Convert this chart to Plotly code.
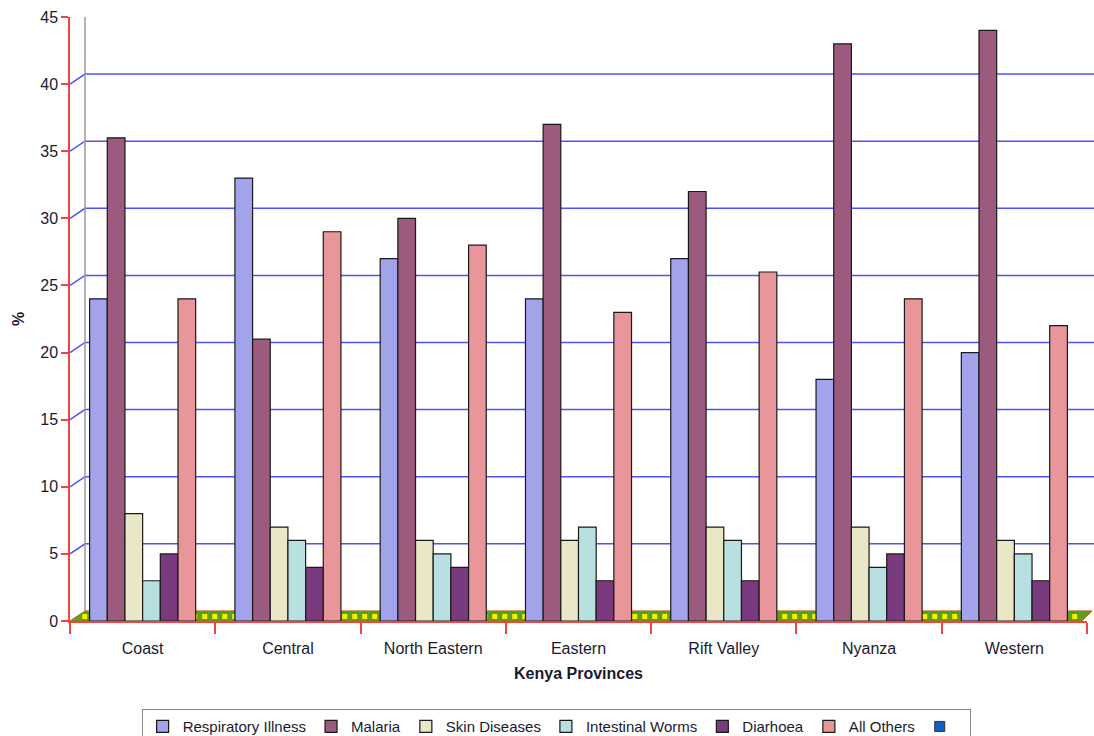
import plotly.graph_objects as go

provinces = ["Coast", "Central", "North Eastern", "Eastern", "Rift Valley", "Nyanza", "Western"]
series_names = ["Respiratory Illness", "Malaria", "Skin Diseases", "Intestinal Worms", "Diarhoea", "All Others"]
respiratory = [24, 33, 27, 24, 27, 18, 20]
malaria = [36, 21, 30, 37, 32, 43, 44]
skin = [8, 7, 6, 6, 7, 7, 6]
worms = [3, 6, 5, 7, 6, 4, 5]
diarhoea = [5, 4, 4, 3, 3, 5, 3]
all_others = [24, 29, 28, 23, 26, 24, 22]
y_ticks = [0, 5, 10, 15, 20, 25, 30, 35, 40, 45]

series_values = [respiratory, malaria, skin, worms, diarhoea, all_others]
bar_colors = ["#a2a3ea", "#9c5a7e", "#e9e7c6", "#b8e0e0", "#7a3a7e", "#e8969a"]

FONT = "Liberation Sans, Arial, sans-serif"
TXT = "#1a1a2e"

fig = go.Figure()
for name, vals, col in zip(series_names, series_values, bar_colors):
    fig.add_trace(go.Bar(
        x=provinces, y=vals, name=name,
        marker=dict(color=col, line=dict(color="#1a1a1a", width=1.2)),
    ))
# empty 7th legend entry (blue square, no label)
fig.add_trace(go.Scatter(x=[None], y=[None], mode="markers", name=" ",
                         marker=dict(symbol="square", color="#1060c8", size=10,
                                     line=dict(color="#333", width=1))))

# back wall offsets (3D look)
dx = 15 / 1017
dy = 0.75
shapes = []
grid_col = "rgb(80,80,255)"
for v in y_ticks[1:-1]:
    shapes.append(dict(type="path", xref="paper", yref="y", layer="below",
                       path=f"M 0 {v} L {dx} {v+dy} L 1.03 {v+dy}",
                       line=dict(color=grid_col, width=1.5)))
top = y_ticks[-1]
shapes.append(dict(type="path", xref="paper", yref="y", layer="below",
                   path=f"M 0 {top} L {dx} {top+dy} L 1.03 {top+dy}",
                   line=dict(color="#8a8a95", width=1.5)))
shapes.append(dict(type="line", xref="paper", yref="y", layer="below",
                   x0=dx, x1=dx, y0=dy, y1=top + dy,
                   line=dict(color="#9a9aa0", width=1.5)))
# floor
shapes.append(dict(type="path", xref="paper", yref="y", layer="below",
                   path=f"M 0 0 L {dx} {dy} L 1.005 {dy} L 0.995 0 Z",
                   fillcolor="#5aa020", line=dict(color="#c06010", width=1)))
shapes.append(dict(type="line", xref="paper", yref="y", layer="below",
                   x0=0.012, x1=0.995, y0=dy * 0.45, y1=dy * 0.45,
                   line=dict(color="#f2f200", width=5, dash="dot")))

fig.update_layout(
    width=1094, height=736,
    margin=dict(l=70, r=7, t=17, b=115, autoexpand=False),
    paper_bgcolor="white", plot_bgcolor="rgba(0,0,0,0)",
    barmode="group", bargap=0.27, bargroupgap=0,
    font=dict(family=FONT, size=15, color=TXT),
    shapes=shapes,
    showlegend=True,
    legend=dict(orientation="h", x=0.478, xanchor="center", y=-0.146, yanchor="top",
                bordercolor="#8a8a8a", borderwidth=1, bgcolor="white",
                font=dict(size=15, color=TXT), itemwidth=30,
                tracegroupgap=0, traceorder="normal"),
    xaxis=dict(
        type="category", showline=True, linecolor="#ee4444", linewidth=1.5,
        ticks="outside", tickcolor="#ee4444", ticklen=11, tickwidth=1.5,
        tickson="boundaries", showgrid=False, zeroline=False,
        ticklabelstandoff=12,
        tickfont=dict(size=16, color=TXT),
        title=dict(text="<b>Kenya Provinces</b>", font=dict(size=16, color=TXT), standoff=12),
    ),
    yaxis=dict(
        range=[0, 45], tickvals=y_ticks, showgrid=False, zeroline=False,
        showline=True, linecolor="#ee4444", linewidth=1.5,
        ticks="outside", tickcolor="#ee4444", ticklen=7, tickwidth=1.5,
        tickfont=dict(size=16, color=TXT),
        title=dict(text="<b>%</b>", font=dict(size=16, color=TXT), standoff=12),
    ),
)

fig.write_html("out.html")
